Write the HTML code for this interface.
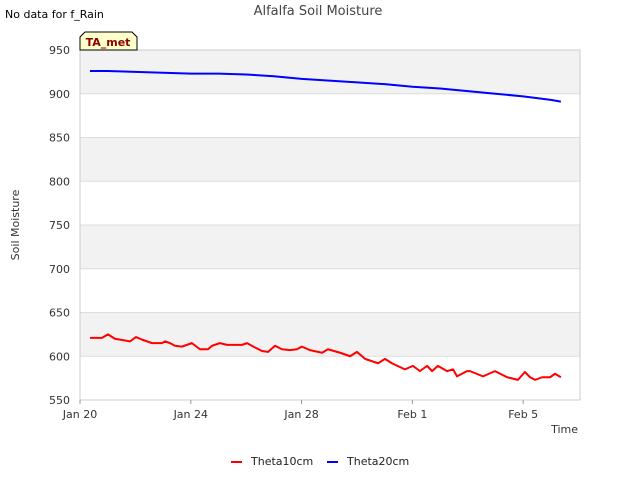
<!DOCTYPE html>
<html><head><meta charset="utf-8"><style>
body{margin:0;background:#fff;font-family:"Liberation Sans","DejaVu Sans",sans-serif;}
svg text{font-family:"DejaVu Sans","Liberation Sans",sans-serif;}
</style></head><body>
<svg width="640" height="480" xmlns="http://www.w3.org/2000/svg">
<rect width="640" height="480" fill="#fff"/>
<text x="5" y="18" font-size="11" fill="#000">No data for f_Rain</text>
<text x="318" y="15" font-size="13" fill="#444" text-anchor="middle">Alfalfa Soil Moisture</text>
<g id="grid"></g>
<g id="axes"></g>
<g id="series"></g>
<text x="19" y="225" font-size="11" fill="#333" text-anchor="middle" transform="rotate(-90 19 225)">Soil Moisture</text>
<text x="578" y="433" font-size="11" fill="#333" text-anchor="end">Time</text>
<g>
<path d="M80,50 L80,37 L85,32 L132,32 L137,37 L137,50 Z" fill="#ffffcc" stroke="#000" stroke-width="1"/>
<text x="108" y="46" font-size="11" font-weight="bold" fill="#8b0000" text-anchor="middle">TA_met</text>
</g>
<g>
<g><line x1="231" y1="462" x2="242" y2="462" stroke="#ff0000" stroke-width="2"/><text x="251" y="465" font-size="11" fill="#222">Theta10cm</text></g>
<g><line x1="327" y1="462" x2="338" y2="462" stroke="#0000ff" stroke-width="2"/><text x="347" y="465" font-size="11" fill="#222">Theta20cm</text></g>
</g>
</svg>
<script>
const yTicks=[550,600,650,700,750,800,850,900,950];
const xTickDays=[0,4,8,12,16];
const xTickLabels=["Jan 20","Jan 24","Jan 28","Feb 1","Feb 5"];
const theta10Days=[0.36,0.79,1.01,1.26,1.81,2.02,2.24,2.6,2.96,3.07,3.25,3.43,3.68,4.04,4.33,4.62,4.77,5.05,5.31,5.85,6.03,6.32,6.57,6.79,7.04,7.29,7.58,7.83,8.01,8.3,8.74,8.95,9.39,9.75,10.0,10.29,10.76,11.01,11.26,11.73,12.02,12.27,12.53,12.71,12.92,13.25,13.47,13.61,13.97,14.08,14.55,14.98,15.42,15.81,16.06,16.25,16.43,16.68,16.97,17.15,17.36];
const theta10Values=[621,621,625,620,617,622,619,615,615,617,615,612,611,615,608,608,612,615,613,613,615,610,606,605,612,608,607,608,611,607,604,608,604,600,605,597,592,597,592,585,589,583,589,583,589,583,585,577,583,583,577,583,576,573,582,576,573,576,576,580,576];
const theta20Days=[0.36,1,2,3,4,5,6,7,8,9,10,11,12,13,14,15,16,17,17.36];
const theta20Values=[926,926,925,924,923,923,922,920,917,915,913,911,908,906,903,900,897,893,891];
const X0=80,X1=580,Y0=50,Y1=400,ppd=27.7;
const xs=d=>X0+d*ppd;
const ys=v=>Y1-(v-550)/400*(Y1-Y0);
const NS="http://www.w3.org/2000/svg";
function mk(tag,attrs,parent){const e=document.createElementNS(NS,tag);for(const k in attrs)e.setAttribute(k,attrs[k]);parent.appendChild(e);return e;}
const grid=document.getElementById('grid'),axes=document.getElementById('axes'),series=document.getElementById('series');
for(let i=0;i<yTicks.length-1;i++){
 if(i%2===1){const r=mk('rect',{x:X0,y:ys(yTicks[i+1]),width:X1-X0,height:ys(yTicks[i])-ys(yTicks[i+1]),fill:'#f2f2f2'},grid);
 
 }
}
yTicks.forEach(v=>{
 const l=mk('line',{x1:X0,x2:X1,y1:ys(v),y2:ys(v),stroke:'#dddddd','stroke-width':1},grid);
 
 
 const t=mk('text',{x:X0-10,y:ys(v)+4,'font-size':11,fill:'#333','text-anchor':'end'},axes);
 
 
 t.textContent=v;
});
const frame=mk('rect',{x:X0,y:Y0,width:X1-X0,height:Y1-Y0,fill:'none',stroke:'#ccc'},axes);


xTickDays.forEach((d,i)=>{
 const tk=mk('line',{x1:xs(d),x2:xs(d),y1:Y1,y2:Y1+4,stroke:'#999'},axes);
 
 
 const t=mk('text',{x:xs(d),y:Y1+18,'font-size':11,fill:'#333','text-anchor':'middle'},axes);
 
 
 t.textContent=xTickLabels[i];
});
function line(days,vals,color,name){
 const p=mk('polyline',{points:days.map((d,i)=>xs(d)+','+ys(vals[i])).join(' '),fill:'none',stroke:color,'stroke-width':2,'stroke-linejoin':'round'},series);
 
 
}
line(theta20Days,theta20Values,'#0000ff','theta20cm-line');
line(theta10Days,theta10Values,'#ff0000','theta10cm-line');
</script>
</body></html>
